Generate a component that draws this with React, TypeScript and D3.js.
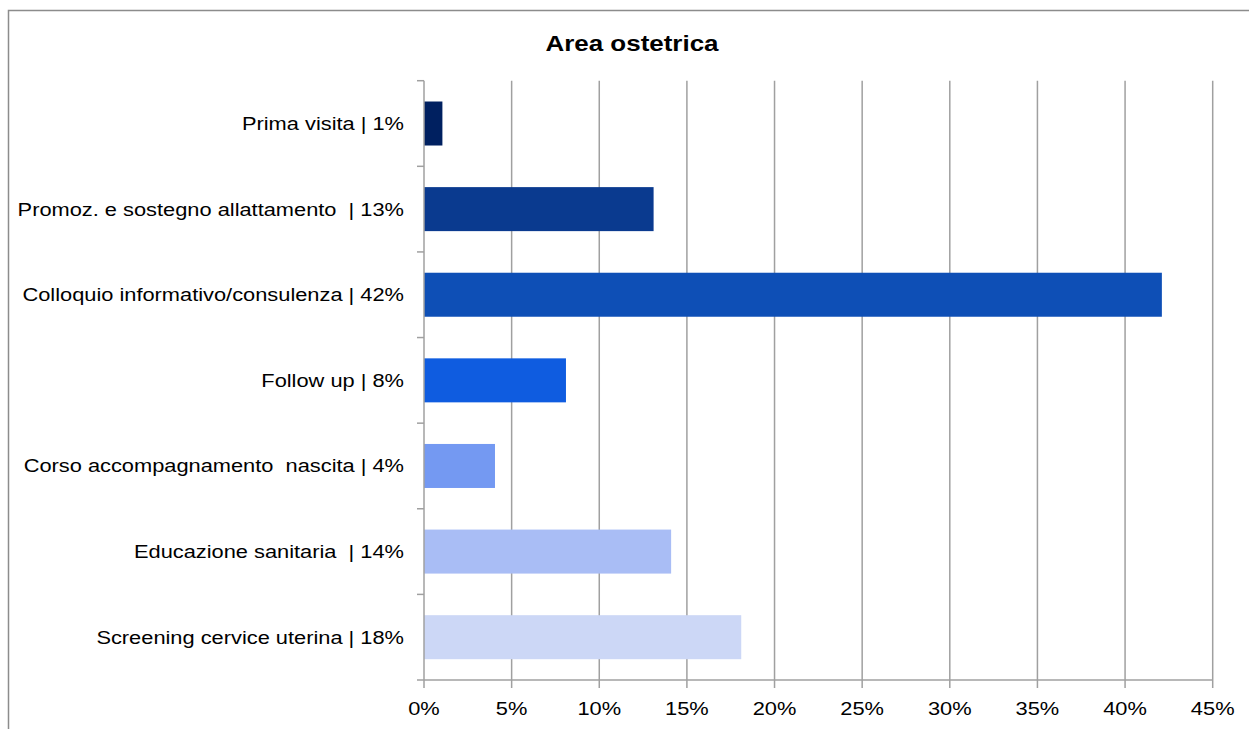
import React from "react";
import * as d3 from "d3";

const categories = [
  "Prima visita | 1%",
  "Promoz. e sostegno allattamento  | 13%",
  "Colloquio informativo/consulenza | 42%",
  "Follow up | 8%",
  "Corso accompagnamento  nascita | 4%",
  "Educazione sanitaria  | 14%",
  "Screening cervice uterina | 18%",
];
const values = [1.05, 13.1, 42.1, 8.1, 4.05, 14.1, 18.1];
const colors = ["#002060", "#0a3a8f", "#0e4fb6", "#0f5ce0", "#7499f2", "#a9bdf5", "#ccd7f6"];
const xTicks = [0, 5, 10, 15, 20, 25, 30, 35, 40, 45];
const title = "Area ostetrica";

export default function App() {
  const W = 1249, H = 729;
  const left = 424, right = 1212.7, top = 80.7, bottom = 680;
  const x = d3.scaleLinear().domain([0, 45]).range([left, right]);
  const y = d3.scaleBand<string>().domain(categories).range([top, bottom]).paddingInner(0.486).paddingOuter(0.243);
  const boundaries = d3.range(categories.length + 1).map((i) => top + i * ((bottom - top) / categories.length));
  const font = "'Liberation Sans', Arial, sans-serif";
  const gridColor = "#a0a0a0";
  const sx = 1.18;
  return (
    <svg width={W} height={H} style={{ position: "absolute", left: 0, top: 0, background: "#fff" }} fontFamily={font}>
      <rect x={8.5} y={10.5} width={1400} height={900} fill="#fff" stroke="#8c8c8c" strokeWidth={1.5} />
      <text transform={`translate(632,51) scale(${sx},1)`} textAnchor="middle" fontSize={22} fontWeight="bold" fill="#000">{title}</text>
      {xTicks.slice(1).map((t) => (
        <line key={"g" + t} x1={x(t)} x2={x(t)} y1={top} y2={bottom + 8} stroke={gridColor} strokeWidth={1.5} />
      ))}
      {categories.map((c, i) => (
        <rect key={c} x={x(0)} y={y(c)} width={x(values[i]) - x(0)} height={y.bandwidth()} fill={colors[i]} />
      ))}
      <line x1={left} x2={left} y1={top} y2={bottom + 8} stroke={gridColor} strokeWidth={1.5} />
      <line x1={left} x2={right} y1={bottom} y2={bottom} stroke={gridColor} strokeWidth={1.5} />
      {boundaries.map((b, i) => (
        <line key={"b" + i} x1={left - 7} x2={left} y1={b} y2={b} stroke={gridColor} strokeWidth={1.5} />
      ))}
      {xTicks.map((t) => (
        <text key={"t" + t} transform={`translate(${x(t)},715) scale(${sx},1)`} textAnchor="middle" fontSize={18.5} fill="#000">{t + "%"}</text>
      ))}
      {categories.map((c) => (
        <text key={"l" + c} transform={`translate(404,${(y(c) as number) + y.bandwidth() / 2 + 6.5}) scale(${sx},1)`} textAnchor="end" fontSize={18.5} fill="#000" style={{ whiteSpace: "pre" }}>{c}</text>
      ))}
    </svg>
  );
}
